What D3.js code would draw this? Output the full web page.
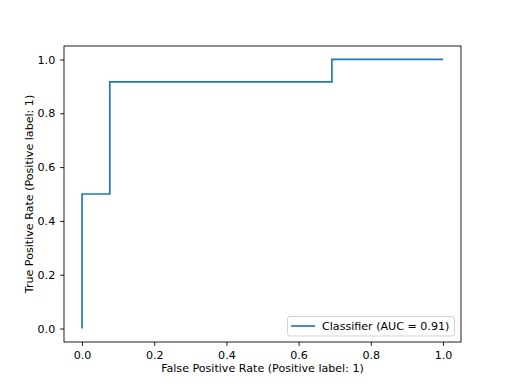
<!DOCTYPE html>
<html>
<head>
<meta charset="utf-8">
<script src="https://cdn.jsdelivr.net/npm/d3@7"></script>
<style>
body { margin: 0; background: #fff; }
text { font-family: "DejaVu Sans", sans-serif; }
</style>
</head>
<body>
<svg width="512" height="384"></svg>
<script>
// ROC points
var fpr = [0, 0, 1 / 13, 1 / 13, 9 / 13, 9 / 13, 1];
var tpr = [0, 0.5, 0.5, 11 / 12, 11 / 12, 1, 1];
var xTicks = [0, 0.2, 0.4, 0.6, 0.8, 1.0];
var yTicks = [0, 0.2, 0.4, 0.6, 0.8, 1.0];
var legendLabel = "Classifier (AUC = 0.91)";

var svg = d3.select("svg");
var mLeft = 64, mRight = 461, mTop = 46, mBottom = 342;

var x = d3.scaleLinear().domain([-0.05, 1.05]).range([mLeft, mRight]);
var y = d3.scaleLinear().domain([-0.05, 1.05]).range([mBottom, mTop]);

// curve
var pts = fpr.map(function (d, i) { return [d, tpr[i]]; });
svg.append("path")
  .datum(pts)
  .attr("fill", "none")
  .attr("stroke", "#1f77b4")
  .attr("stroke-width", 1.67)
  .attr("d", d3.line().x(function (d) { return x(d[0]); }).y(function (d) { return y(d[1]); }));

// axes
var xAxis = svg.append("g")
  .attr("transform", "translate(0," + mBottom + ")")
  .call(d3.axisBottom(x).tickValues(xTicks).tickFormat(d3.format(".1f")).tickSize(3.9).tickPadding(4.9));
var yAxis = svg.append("g")
  .attr("transform", "translate(" + mLeft + ",0)")
  .call(d3.axisLeft(y).tickValues(yTicks).tickFormat(d3.format(".1f")).tickSize(3.9).tickPadding(4.9));
[xAxis, yAxis].forEach(function (g) {
  g.select(".domain").remove();
  g.selectAll("line").attr("stroke", "#000").attr("stroke-width", 0.89);
  g.selectAll("text").attr("font-size", 11.1).attr("fill", "#000");
});

// frame
svg.append("rect")
  .attr("x", mLeft).attr("y", mTop)
  .attr("width", mRight - mLeft).attr("height", mBottom - mTop)
  .attr("fill", "none").attr("stroke", "#000").attr("stroke-width", 0.89);

// labels
svg.append("text")
  .attr("x", (mLeft + mRight) / 2).attr("y", 372)
  .attr("text-anchor", "middle").attr("font-size", 11.1)
  .text("False Positive Rate (Positive label: 1)");
svg.append("text")
  .attr("transform", "translate(33," + (mTop + mBottom) / 2 + ") rotate(-90)")
  .attr("text-anchor", "middle").attr("font-size", 11.1)
  .text("True Positive Rate (Positive label: 1)");

// legend
var lg = svg.append("g");
lg.append("rect")
  .attr("x", 287.5).attr("y", 316.5).attr("width", 167).attr("height", 19.5)
  .attr("rx", 2.5).attr("fill", "#fff").attr("fill-opacity", 0.8)
  .attr("stroke", "#ccc").attr("stroke-width", 0.89);
lg.append("line")
  .attr("x1", 291).attr("x2", 315).attr("y1", 326).attr("y2", 326)
  .attr("stroke", "#1f77b4").attr("stroke-width", 1.67);
lg.append("text")
  .attr("x", 322).attr("y", 330).attr("font-size", 11.1)
  .text(legendLabel);
</script>
</body>
</html>
